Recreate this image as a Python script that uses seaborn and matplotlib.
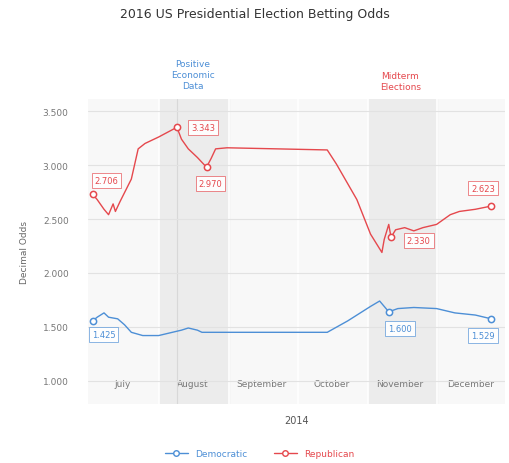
import pandas as pd
import matplotlib.pyplot as plt
import seaborn as sns

sns.set_style("white")
plt.rcParams['font.family'] = ['DejaVu Sans']

# Republican odds
rep_dates = ["2014-07-03", "2014-07-05", "2014-07-08", "2014-07-10", "2014-07-12", "2014-07-13",
             "2014-07-15", "2014-07-20", "2014-07-23", "2014-07-26", "2014-08-01", "2014-08-09",
             "2014-08-11", "2014-08-14", "2014-08-18", "2014-08-22", "2014-08-24", "2014-08-26",
             "2014-08-31", "2014-10-14", "2014-10-18", "2014-10-27", "2014-11-02", "2014-11-07",
             "2014-11-08", "2014-11-10", "2014-11-11", "2014-11-13", "2014-11-17", "2014-11-21",
             "2014-11-25", "2014-12-01", "2014-12-07", "2014-12-11", "2014-12-18", "2014-12-25"]
rep_odds = [2.73, 2.68, 2.59, 2.54, 2.64, 2.57,
            2.66, 2.87, 3.15, 3.20, 3.26, 3.35,
            3.24, 3.15, 3.07, 2.98, 3.06, 3.15,
            3.16, 3.14, 3.01, 2.68, 2.36, 2.19,
            2.31, 2.45, 2.33, 2.40, 2.42, 2.39,
            2.42, 2.45, 2.54, 2.57, 2.59, 2.62]

# Democratic odds
dem_dates = ["2014-07-03", "2014-07-05", "2014-07-08", "2014-07-10", "2014-07-14", "2014-07-17",
             "2014-07-20", "2014-07-25", "2014-08-01", "2014-08-07", "2014-08-11", "2014-08-14",
             "2014-08-18", "2014-08-20", "2014-08-25", "2014-10-14", "2014-10-23", "2014-11-02",
             "2014-11-06", "2014-11-08", "2014-11-10", "2014-11-14", "2014-11-21", "2014-12-01",
             "2014-12-09", "2014-12-18", "2014-12-25"]
dem_odds = [1.556, 1.59, 1.63, 1.59, 1.575, 1.52,
            1.45, 1.42, 1.42, 1.45, 1.47, 1.49,
            1.47, 1.45, 1.45, 1.45, 1.556, 1.69,
            1.74, 1.69, 1.64, 1.67, 1.68, 1.67,
            1.63, 1.61, 1.575]

# labelled points
rep_marked = ["2014-07-03", "2014-08-09", "2014-08-22", "2014-11-11", "2014-12-25"]
rep_labels = ["2.706", "3.343", "2.970", "2.330", "2.623"]
dem_marked = ["2014-07-03", "2014-11-10", "2014-12-25"]
dem_labels = ["1.425", "1.600", "1.529"]

months = ["July", "August", "September", "October", "November", "December"]
y_ticks = [1.0, 1.5, 2.0, 2.5, 3.0, 3.5]

blue = "#4d8fd6"
red = "#e5484d"

df = pd.concat([
    pd.DataFrame({"date": pd.to_datetime(dem_dates), "odds": dem_odds, "party": "Democratic"}),
    pd.DataFrame({"date": pd.to_datetime(rep_dates), "odds": rep_odds, "party": "Republican"}),
])

fig = plt.figure(figsize=(5.09, 4.64), dpi=100)
ax = fig.add_axes([0.173, 0.127, 0.819, 0.657])
ax.set_facecolor("#f8f8f8")

# shaded months
ax.axvspan(pd.Timestamp("2014-08-01"), pd.Timestamp("2014-09-01"), color="#ececec", zorder=0)
ax.axvspan(pd.Timestamp("2014-11-01"), pd.Timestamp("2014-12-01"), color="#ececec", zorder=0)
for d in ["2014-08-01", "2014-09-01", "2014-10-01", "2014-11-01", "2014-12-01"]:
    ax.axvline(pd.Timestamp(d), color="white", lw=1.2, zorder=0.5)
ax.axvline(pd.Timestamp("2014-08-09"), color="#d8d8d8", lw=0.8, zorder=0.6)
for y in y_ticks:
    ax.axhline(y, color="#e2e2e2", lw=0.8, zorder=0.6)

sns.lineplot(data=df, x="date", y="odds", hue="party", palette={"Democratic": blue, "Republican": red},
             lw=1.0, ax=ax, legend=False)

offsets = {("Republican", 0): (10, 10), ("Republican", 1): (19, 0), ("Republican", 2): (3, -12),
           ("Republican", 3): (20, -2), ("Republican", 4): (-6, 13),
           ("Democratic", 0): (8, -10), ("Democratic", 1): (8, -12), ("Democratic", 2): (-6, -12)}
for party, dates, vals, marked, labels, col in [("Democratic", dem_dates, dem_odds, dem_marked, dem_labels, blue),
                                                 ("Republican", rep_dates, rep_odds, rep_marked, rep_labels, red)]:
    lookup = dict(zip(dates, vals))
    for i, (d, lab) in enumerate(zip(marked, labels)):
        x = pd.Timestamp(d)
        ax.plot(x, lookup[d], "o", ms=4.5, mfc="white", mec=col, mew=1.1, zorder=5)
        ax.annotate(lab, (x, lookup[d]), xytext=offsets[(party, i)],
                    textcoords="offset points", ha="center", va="center", fontsize=6, color=col,
                    bbox=dict(boxstyle="square,pad=0.35", fc="white", ec=col, lw=0.5, alpha=0.9),
                    zorder=6)

ax.set_xlim(pd.Timestamp("2014-07-01"), pd.Timestamp("2014-12-31"))
ax.set_ylim(0.785, 3.61)
ax.set_yticks(y_ticks)
ax.set_yticklabels([f"{v:.3f}" for v in y_ticks])
mid = pd.to_datetime(["2014-07-16", "2014-08-16", "2014-09-15", "2014-10-16", "2014-11-15", "2014-12-16"])
ax.set_xticks(mid)
ax.set_xticklabels(months)
ax.tick_params(axis="x", pad=-18, labelsize=6.5, colors="#777777", length=0)
ax.tick_params(axis="y", labelsize=6.5, colors="#777777", length=0, pad=14)
for s in ax.spines.values():
    s.set_visible(False)

ax.set_xlabel("2014", fontsize=7, color="#555555", labelpad=8)
ax.set_ylabel("Decimal Odds", fontsize=6.5, color="#666666", labelpad=10)

tr = ax.get_xaxis_transform()
ax.text(pd.Timestamp("2014-08-16"), 1.082, "Positive\nEconomic\nData", transform=tr, ha="center",
        va="center", fontsize=6.5, color=blue, linespacing=1.3)
ax.text(pd.Timestamp("2014-11-15"), 1.059, "Midterm\nElections", transform=tr, ha="center",
        va="center", fontsize=6.5, color=red, linespacing=1.3)

fig.suptitle("2016 US Presidential Election Betting Odds", x=0.5, y=0.982, fontsize=9, color="#333333")

h1, = ax.plot([], [], "-o", color=blue, ms=4, mfc="white", mew=1, lw=1)
h2, = ax.plot([], [], "-o", color=red, ms=4, mfc="white", mew=1, lw=1)
leg = fig.legend([h1, h2], ["Democratic", "Republican"], loc="center", bbox_to_anchor=(0.51, 0.02),
                 ncol=2, frameon=False, fontsize=6.5, handlelength=2.5, columnspacing=3)
leg.get_texts()[0].set_color(blue)
leg.get_texts()[1].set_color(red)

fig.savefig("out.png", dpi=100)
